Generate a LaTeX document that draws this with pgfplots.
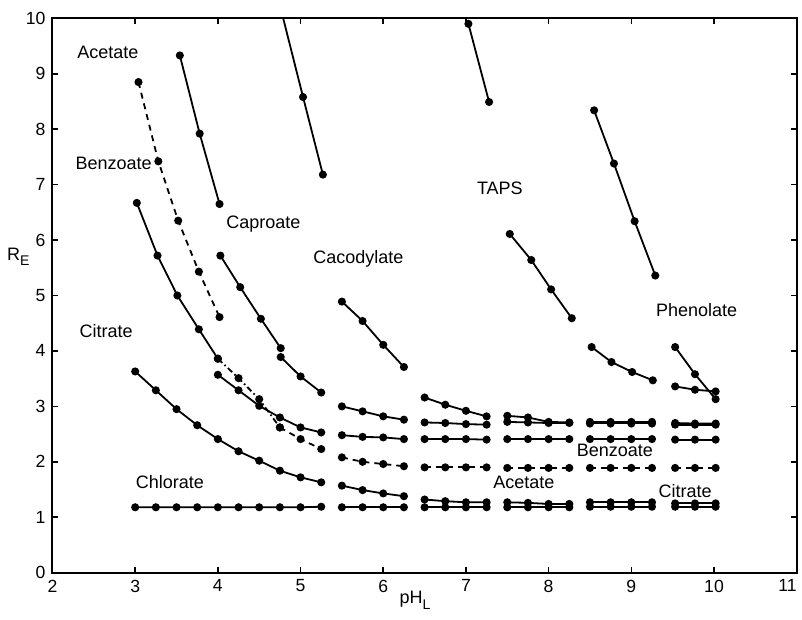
\documentclass[border=0pt]{standalone}
\usepackage{fontspec}
\setmainfont{Liberation Sans}
\usepackage{pgfplots}
\pgfplotsset{compat=1.18}
\usetikzlibrary{calc}
\pgfplotsset{
  s/.style={black, line width=0.9pt, mark=*, mark size=1.55pt, mark options={solid, fill=black}},
  d/.style={s, dash pattern=on 3pt off 2.5pt},
  dd/.style={s, dash pattern=on 3pt off 1.5pt on 0.8pt off 1.5pt},
}
\newcommand{\lab}{\fontsize{9}{10}\selectfont}
\begin{document}
\begin{tikzpicture}
\begin{axis}[
  scale only axis, width=372.1pt, height=277.2pt,
  xmin=2, xmax=11, ymin=0, ymax=10,
  xtick={2,3,...,11}, ytick={0,1,...,10},
  xticklabels={2,3,4,5,6,7,8,9,10,{\makebox[0pt][r]{11}\hspace{1.6pt}}},
  axis line style={line width=1pt, black},
  tick style={line width=0.8pt, black},
  major tick length=3pt,
  tick label style={font=\fontsize{8.8}{9}\selectfont},
  /pgf/number format/assume math mode=true,
  xlabel={pH\raisebox{-0.6ex}{\scriptsize L}},
  ylabel={R\raisebox{-0.6ex}{\scriptsize E}},
  xlabel style={font=\lab, at={(axis description cs:0.487,-0.05)}, anchor=center},
  ylabel style={font=\lab, rotate=-90, at={(axis description cs:-0.046,0.57)}, anchor=center},
  clip=true,
]
% ---- pH 3 - 5.25 ----
\addplot[d] coordinates {(3.04,8.85) (3.28,7.42) (3.52,6.35) (3.77,5.43) (4.02,4.61)};
\addplot[s] coordinates {(3.54,9.33) (3.78,7.92) (4.02,6.65)};
\addplot[black, line width=0.9pt] coordinates {(4.79,10.0) (5.03,8.58)};
\addplot[s] coordinates {(5.03,8.58) (5.27,7.18)};
\addplot[s] coordinates {(3.02,6.67) (3.27,5.72) (3.51,5.00) (3.77,4.39) (4.0,3.86)};
\addplot[dd] coordinates {(4.0,3.86) (4.25,3.51) (4.5,3.13) (4.75,2.62)};
\addplot[d] coordinates {(4.75,2.62) (5.0,2.41) (5.25,2.23)};
\addplot[s] coordinates {(4.0,3.57) (4.25,3.29) (4.5,3.01) (4.75,2.80) (5.0,2.62) (5.25,2.53)};
\addplot[s] coordinates {(3.0,3.63) (3.25,3.29) (3.5,2.95) (3.75,2.66) (4.0,2.41) (4.25,2.19) (4.5,2.02) (4.75,1.84) (5.0,1.72) (5.25,1.63)};
\addplot[s] coordinates {(4.03,5.72) (4.27,5.15) (4.52,4.58) (4.76,4.05)};
\addplot[s] coordinates {(4.76,3.89) (5.0,3.54) (5.25,3.25)};
\addplot[s] coordinates {(3.0,1.18) (3.25,1.18) (3.5,1.18) (3.75,1.18) (4.0,1.18) (4.25,1.18) (4.5,1.18) (4.75,1.18) (5.0,1.18) (5.25,1.19)};
% ---- pH 5.5 - 6.25 ----
\addplot[s] coordinates {(5.5,4.89) (5.75,4.54) (6.0,4.11) (6.25,3.71)};
\addplot[s] coordinates {(5.5,3.00) (5.75,2.91) (6.0,2.82) (6.25,2.76)};
\addplot[s] coordinates {(5.5,2.48) (5.75,2.45) (6.0,2.44) (6.25,2.41)};
\addplot[d] coordinates {(5.5,2.08) (5.75,2.00) (6.0,1.96) (6.25,1.92)};
\addplot[s] coordinates {(5.5,1.57) (5.75,1.49) (6.0,1.43) (6.25,1.38)};
\addplot[s] coordinates {(5.5,1.18) (5.75,1.18) (6.0,1.18) (6.25,1.18)};
% ---- pH 6.5 - 7.25 ----
\addplot[s] coordinates {(7.03,9.90) (7.28,8.49)};
\addplot[s] coordinates {(6.5,3.16) (6.75,3.03) (7.0,2.92) (7.25,2.82)};
\addplot[s] coordinates {(6.5,2.71) (6.75,2.70) (7.0,2.68) (7.25,2.67)};
\addplot[s] coordinates {(6.5,2.41) (6.75,2.41) (7.0,2.41) (7.25,2.40)};
\addplot[d] coordinates {(6.5,1.90) (6.75,1.90) (7.0,1.90) (7.25,1.90)};
\addplot[s] coordinates {(6.5,1.32) (6.75,1.29) (7.0,1.27) (7.25,1.27)};
\addplot[s] coordinates {(6.5,1.18) (6.75,1.18) (7.0,1.18) (7.25,1.18)};
% ---- pH 7.5 - 8.25 ----
\addplot[s] coordinates {(7.53,6.11) (7.79,5.64) (8.03,5.11) (8.28,4.59)};
\addplot[s] coordinates {(7.5,2.83) (7.75,2.80) (8.0,2.72) (8.25,2.71)};
\addplot[s] coordinates {(7.5,2.72) (7.75,2.71) (8.0,2.70) (8.25,2.70)};
\addplot[s] coordinates {(7.5,2.41) (7.75,2.41) (8.0,2.41) (8.25,2.41)};
\addplot[d] coordinates {(7.5,1.89) (7.75,1.89) (8.0,1.89) (8.25,1.89)};
\addplot[s] coordinates {(7.5,1.27) (7.75,1.26) (8.0,1.24) (8.25,1.24)};
\addplot[s] coordinates {(7.5,1.18) (7.75,1.18) (8.0,1.18) (8.25,1.18)};
% ---- pH 8.5 - 9.25 ----
\addplot[s] coordinates {(8.55,8.34) (8.79,7.38) (9.04,6.34) (9.29,5.36)};
\addplot[s] coordinates {(8.52,4.07) (8.76,3.80) (9.01,3.62) (9.26,3.47)};
\addplot[s] coordinates {(8.5,2.72) (8.75,2.72) (9.0,2.72) (9.25,2.72)};
\addplot[s] coordinates {(8.5,2.69) (8.75,2.69) (9.0,2.69) (9.25,2.69)};
\addplot[s] coordinates {(8.5,2.41) (8.75,2.41) (9.0,2.41) (9.25,2.41)};
\addplot[d] coordinates {(8.5,1.89) (8.75,1.89) (9.0,1.89) (9.25,1.89)};
\addplot[s] coordinates {(8.5,1.27) (8.75,1.27) (9.0,1.27) (9.25,1.27)};
\addplot[s] coordinates {(8.5,1.19) (8.75,1.19) (9.0,1.19) (9.25,1.19)};
% ---- pH 9.5 - 10 ----
\addplot[s] coordinates {(9.53,4.07) (9.77,3.58) (10.02,3.13)};
\addplot[s] coordinates {(9.53,3.36) (9.77,3.30) (10.02,3.27)};
\addplot[s] coordinates {(9.53,2.70) (9.77,2.69) (10.02,2.69)};
\addplot[s] coordinates {(9.53,2.67) (9.77,2.67) (10.02,2.67)};
\addplot[s] coordinates {(9.53,2.40) (9.77,2.40) (10.02,2.40)};
\addplot[d] coordinates {(9.53,1.89) (9.77,1.89) (10.02,1.89)};
\addplot[s] coordinates {(9.53,1.25) (9.77,1.25) (10.02,1.25)};
\addplot[s] coordinates {(9.53,1.19) (9.77,1.19) (10.02,1.19)};
% ---- labels ----
\node[font=\lab] at (axis cs:2.67,9.38) {Acetate};
\node[font=\lab] at (axis cs:2.74,7.38) {Benzoate};
\node[font=\lab] at (axis cs:4.55,6.29) {Caproate};
\node[font=\lab] at (axis cs:5.70,5.66) {Cacodylate};
\node[font=\lab] at (axis cs:2.65,4.35) {Citrate};
\node[font=\lab] at (axis cs:3.42,1.63) {Chlorate};
\node[font=\lab] at (axis cs:7.41,6.94) {TAPS};
\node[font=\lab] at (axis cs:9.79,4.73) {Phenolate};
\node[font=\lab] at (axis cs:8.80,2.20) {Benzoate};
\node[font=\lab] at (axis cs:7.70,1.63) {Acetate};
\node[font=\lab] at (axis cs:9.65,1.48) {Citrate};
\end{axis}
\pgfresetboundingbox
\useasboundingbox ($(current axis.south west)+(-26.25pt,-23.65pt)$) rectangle ($(current axis.south west)+(374.75pt,286.35pt)$);
\end{tikzpicture}
\end{document}
